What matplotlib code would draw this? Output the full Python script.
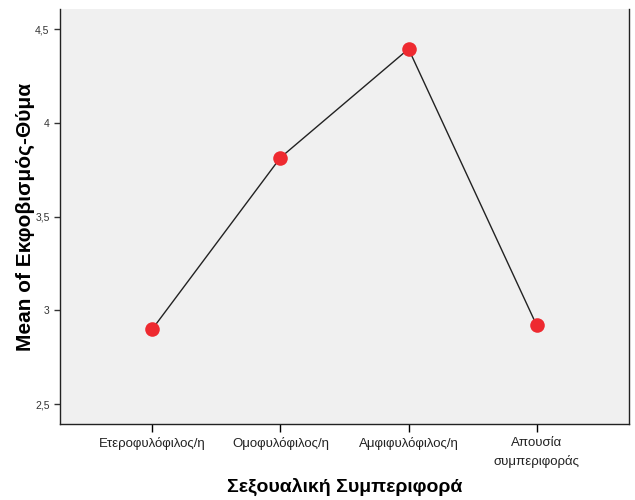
import matplotlib
matplotlib.use("Agg")
import matplotlib.pyplot as plt
from matplotlib.ticker import FuncFormatter

categories = ["Ετεροφυλόφιλος/η", "Ομοφυλόφιλος/η", "Αμφιφυλόφιλος/η", "Απουσία\nσυμπεριφοράς"]
means = [2.90, 3.815, 4.395, 2.92]
y_ticks = [2.5, 3.0, 3.5, 4.0, 4.5]

plt.rcParams["font.family"] = ["Liberation Sans", "DejaVu Sans"]

fig = plt.figure(figsize=(6.35, 5.0), dpi=100)
ax = fig.add_axes([0.0945, 0.152, 0.896, 0.830])
ax.set_facecolor("#f0f0f0")

x = list(range(len(categories)))
ax.plot(x, means, color="#222222", linewidth=1.0, zorder=2)
ax.scatter(x, means, s=110, color="#ee2a30", zorder=3, linewidths=0)

ax.set_xlim(-0.72, 3.72)
ax.set_ylim(2.394, 4.608)
ax.set_xticks(x)
ax.set_xticklabels(categories, fontsize=9.5, color="#222222", linespacing=1.65)
ax.set_yticks(y_ticks)
ax.yaxis.set_major_formatter(FuncFormatter(lambda v, p: f"{v:g}".replace(".", ",")))
ax.tick_params(axis="y", labelsize=7.5, colors="#333333", length=4, width=1)
ax.tick_params(axis="x", length=6, width=1, pad=3)

for side in ["left", "bottom", "right"]:
    ax.spines[side].set_color("#222222")
    ax.spines[side].set_linewidth(1.0)
ax.spines["top"].set_visible(False)

ax.set_ylabel("Mean of Εκφοβισμός-Θύμα", fontsize=15, fontweight="bold", labelpad=0)
ax.set_xlabel("Σεξουαλική Συμπεριφορά", fontsize=14, fontweight="bold", labelpad=7)

fig.savefig("out.png", dpi=100)
